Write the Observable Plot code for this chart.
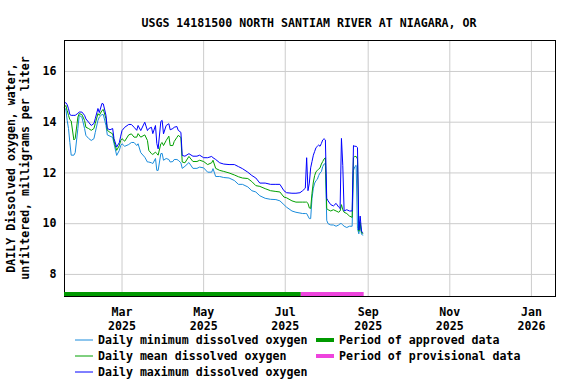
<!DOCTYPE html>
<html><head><meta charset="utf-8">
<script src="https://cdn.jsdelivr.net/npm/d3@7"></script>
<script src="https://cdn.jsdelivr.net/npm/@observablehq/plot@0.6"></script>
<style>body{margin:0;background:#fff}</style>
</head><body><div id="chart"></div>
<script>
const title = "USGS 14181500 NORTH SANTIAM RIVER AT NIAGARA, OR";
const yLabelLines = ["DAILY Dissolved oxygen, water,", "unfiltered, milligrams per liter"];
const seriesNames = ["Daily minimum dissolved oxygen", "Daily mean dissolved oxygen", "Daily maximum dissolved oxygen"];
const seriesColors = ["#1a8cdc", "#00a000", "#0000ff"];
const periodNames = ["Period of approved data", "Period of provisional data"];
const periodColors = ["#009900", "#ee44dd"];
const periodStarts = ["2025-01-17", "2025-07-13"];
const periodEnds = ["2025-07-13", "2025-08-29"];
const xTickDates = ["2025-03-01", "2025-05-01", "2025-07-01", "2025-09-01", "2025-11-01", "2026-01-01"];
const yTicks = [8, 10, 12, 14, 16];
const xDomain = ["2025-01-17", "2026-01-19"];
const yDomain = [7.13, 17.22];

const dates = ["2025-01-17","2025-01-18","2025-01-19","2025-01-20","2025-01-21","2025-01-22","2025-01-24","2025-01-25","2025-01-27","2025-01-28","2025-01-30",
"2025-02-01","2025-02-02","2025-02-04","2025-02-06","2025-02-08","2025-02-09","2025-02-11","2025-02-12","2025-02-14","2025-02-15","2025-02-17","2025-02-18","2025-02-20","2025-02-22","2025-02-23","2025-02-25","2025-02-27","2025-02-28",
"2025-03-01","2025-03-03","2025-03-06","2025-03-08","2025-03-10","2025-03-12","2025-03-13","2025-03-15","2025-03-18","2025-03-20","2025-03-21","2025-03-23","2025-03-24","2025-03-26","2025-03-27","2025-03-28","2025-03-30","2025-03-31",
"2025-04-01","2025-04-03","2025-04-05","2025-04-06","2025-04-08","2025-04-09","2025-04-11","2025-04-12","2025-04-14","2025-04-15","2025-04-17","2025-04-20","2025-04-23","2025-04-26","2025-04-28",
"2025-05-01","2025-05-04","2025-05-07","2025-05-08","2025-05-10","2025-05-13","2025-05-16","2025-05-20","2025-05-24","2025-05-27","2025-05-30",
"2025-06-03","2025-06-06","2025-06-09","2025-06-12","2025-06-16","2025-06-20","2025-06-24","2025-06-27","2025-06-30",
"2025-07-02","2025-07-06","2025-07-09","2025-07-12","2025-07-14","2025-07-16","2025-07-17","2025-07-18","2025-07-19","2025-07-20","2025-07-21","2025-07-22","2025-07-23","2025-07-24","2025-07-25","2025-07-26","2025-07-27","2025-07-28","2025-07-29","2025-07-30","2025-07-31",
"2025-08-01","2025-08-02","2025-08-04","2025-08-06","2025-08-08","2025-08-10","2025-08-11","2025-08-12","2025-08-13","2025-08-14","2025-08-16","2025-08-18","2025-08-20","2025-08-21","2025-08-22","2025-08-23","2025-08-24","2025-08-25","2025-08-26","2025-08-27","2025-08-28"];

const maxDO = [14.75,14.77,14.69,14.53,14.30,14.27,14.27,14.27,14.35,14.40,14.40,
14.27,14.13,14.00,13.87,13.95,14.14,14.54,14.38,14.74,14.72,14.27,13.75,13.70,13.75,13.35,13.02,13.20,13.45,
13.67,13.80,13.91,13.91,13.80,13.68,13.87,13.67,14.00,13.67,13.75,13.80,13.55,13.87,13.16,12.95,14.03,14.07,
13.54,13.87,13.94,13.70,13.75,13.80,13.83,13.68,13.60,12.69,12.66,12.76,12.66,12.66,12.70,
12.60,12.60,12.65,12.60,12.53,12.40,12.35,12.33,12.33,12.25,12.17,
12.03,11.90,11.80,11.60,11.60,11.55,11.55,11.55,11.30,
11.22,11.20,11.20,11.22,11.30,11.40,12.60,11.30,11.60,12.20,12.45,12.70,12.85,13.00,13.05,13.10,13.05,13.16,13.30,13.35,13.30,
11.00,10.90,10.75,10.70,10.80,10.65,10.60,13.36,12.30,10.50,10.55,10.50,10.50,13.08,13.05,13.05,13.00,9.75,10.30,9.70,9.65];

const meanDO = [14.60,14.66,14.46,14.27,14.10,14.05,13.30,13.36,14.20,14.34,14.30,
14.07,13.80,13.75,13.68,13.75,13.95,14.34,14.27,14.46,14.50,14.14,13.68,13.60,13.54,13.25,12.89,13.08,13.28,
13.35,13.25,13.50,13.54,13.41,13.41,13.55,13.41,13.50,13.28,12.89,12.76,12.73,12.82,12.76,12.70,13.15,13.20,
13.08,13.28,13.45,13.08,13.08,13.24,13.40,13.48,13.40,12.43,12.40,12.65,12.45,12.45,12.50,
12.45,12.33,12.40,12.50,12.18,12.10,12.06,12.00,11.92,11.85,11.80,
11.78,11.66,11.50,11.47,11.38,11.30,11.27,11.25,11.05,
11.02,10.90,10.85,10.85,10.85,10.85,10.85,10.80,10.62,10.60,11.20,11.64,11.90,12.05,12.10,12.15,12.20,12.35,12.45,12.55,12.60,
10.60,10.55,10.50,10.55,10.50,10.45,10.50,10.75,10.55,10.45,10.40,10.30,10.25,12.60,12.65,12.65,12.55,9.70,10.05,9.65,9.62];

const minDO = [14.50,14.53,14.07,13.75,13.20,12.70,12.70,12.80,13.75,14.27,14.20,
13.75,13.48,13.36,13.28,13.35,13.60,14.07,14.20,14.30,14.30,13.87,13.50,13.45,13.40,13.16,12.69,12.89,13.08,
13.15,13.05,13.12,13.20,13.20,13.08,13.15,12.80,12.62,12.43,12.43,12.40,12.37,12.57,12.10,12.10,12.76,12.77,
12.50,12.57,12.53,12.43,12.45,12.53,12.53,12.50,12.40,12.18,12.26,12.41,12.18,12.18,12.23,
12.20,12.03,12.03,12.17,11.86,11.86,11.82,11.80,11.70,11.55,11.55,
11.45,11.30,11.25,11.10,11.00,10.96,10.95,10.90,10.75,
10.65,10.50,10.45,10.42,10.40,10.40,10.40,10.30,10.20,10.20,11.00,11.40,11.60,11.70,11.75,11.90,12.00,12.05,12.25,12.35,12.37,
10.13,10.00,9.95,9.95,9.90,9.95,10.00,10.00,9.95,9.90,9.85,9.90,9.90,12.10,12.25,12.30,9.80,9.60,9.95,9.58,9.55];

const parse = d3.utcParse("%Y-%m-%d");
const seriesValues = [minDO, meanDO, maxDO];
const rows = [];
seriesNames.forEach((name, i) => {
  dates.forEach((d, j) => rows.push({date: parse(d), value: seriesValues[i][j], series: name}));
});
const periods = periodNames.map((name, i) => ({name, start: parse(periodStarts[i]), end: parse(periodEnds[i])}));
const xTicks = xTickDates.map(parse);

const font = "'DejaVu Sans Mono', monospace";
const chart = Plot.plot({
  width: 576, height: 384,
  marginTop: 40, marginRight: 21, marginBottom: 88, marginLeft: 64,
  style: {fontFamily: font, fontSize: "11.6px", fontWeight: "bold", color: "black", background: "white"},
  x: {type: "utc", domain: xDomain.map(parse)},
  y: {domain: yDomain},
  color: {domain: seriesNames, range: seriesColors},
  marks: [
    Plot.gridY(yTicks, {stroke: "#cccccc", strokeOpacity: 1}),
    Plot.gridX(xTicks, {stroke: "#cccccc", strokeOpacity: 1}),
    Plot.line(rows, {x: "date", y: "value", z: "series", stroke: "series", strokeWidth: 1}),
    Plot.frame({stroke: "black"}),
    Plot.ruleY(periods, {y: () => yDomain[0], x1: "start", x2: "end", stroke: (d, i) => periodColors[i], strokeWidth: 4, dy: -2.5}),
    Plot.axisY(yTicks, {tickSize: 0, tickPadding: 8, label: null}),
    Plot.axisX(xTicks, {tickSize: 0, tickPadding: 11, tickFormat: d3.utcFormat("%b"), label: null}),
    Plot.axisX(xTicks, {tickSize: 0, tickPadding: 25, tickFormat: d3.utcFormat("%Y"), label: null})
  ]
});
document.getElementById("chart").appendChild(chart);

const svg = d3.select(chart);
const g = svg.append("g").attr("font-family", font).attr("font-weight", "bold").attr("fill", "black");
g.append("text").attr("x", 309).attr("y", 27).attr("text-anchor", "middle").attr("font-size", "11.6px").text(title);
yLabelLines.forEach((t, i) => {
  g.append("text").attr("transform", `translate(${15 + i * 14},168) rotate(-90)`)
    .attr("text-anchor", "middle").attr("font-size", "11.6px").text(t);
});
// legend
seriesNames.forEach((name, i) => {
  const y = 340 + i * 16;
  g.append("line").attr("x1", 75).attr("x2", 93).attr("y1", y).attr("y2", y)
    .attr("stroke", seriesColors[i]).attr("stroke-width", 1);
  g.append("text").attr("x", 98).attr("y", y + 4).attr("text-anchor", "start").attr("font-size", "11.6px").text(name);
});
periodNames.forEach((name, i) => {
  const y = 340 + i * 16;
  g.append("line").attr("x1", 316).attr("x2", 334).attr("y1", y).attr("y2", y)
    .attr("stroke", periodColors[i]).attr("stroke-width", 4);
  g.append("text").attr("x", 339).attr("y", y + 4).attr("text-anchor", "start").attr("font-size", "11.6px").text(name);
});
</script></body></html>
